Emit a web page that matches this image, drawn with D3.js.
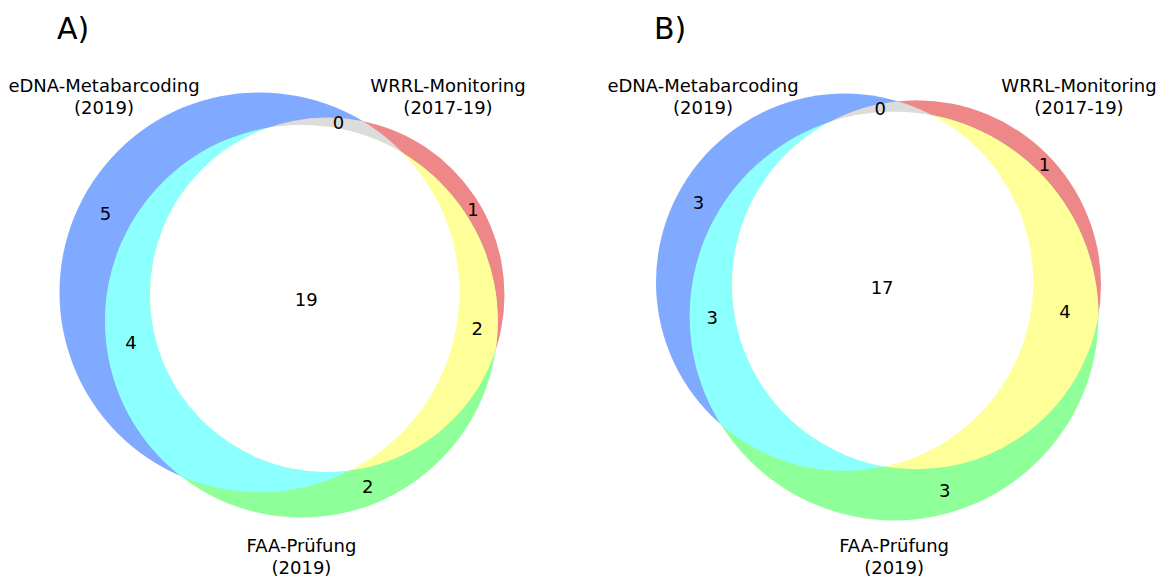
<!DOCTYPE html>
<html>
<head>
<meta charset="utf-8">
<script src="https://cdn.jsdelivr.net/npm/d3@7"></script>
<style>
  body { margin: 0; background: #ffffff; }
  svg text { font-family: "DejaVu Sans", Verdana, sans-serif; fill: #000000; }
</style>
</head>
<body>
<svg id="chart" width="1165" height="579"></svg>
<script>
// ---- data ----
const setNames = ["eDNA-Metabarcoding", "WRRL-Monitoring", "FAA-Prüfung"];
const setPeriods = ["(2019)", "(2017-19)", "(2019)"];
const panelTitles = ["A)", "B)"];
// membership of each region in (eDNA, WRRL, FAA)
const regionKeys = ["100", "010", "001", "110", "101", "011", "111"];
const countsA = [5, 1, 2, 0, 4, 2, 19];
const countsB = [3, 1, 3, 0, 3, 4, 17];
const regionColors = ["#80aaff", "#ee8888", "#8eff99", "#dcdcdc", "#8cffff", "#ffff99", "#ffffff"];

// ---- panel layout ----
const panels = [
  { title: panelTitles[0], counts: countsA, cx: 282, cy: 305, titleX: 57, setLabelX: [104, 448] },
  { title: panelTitles[1], counts: countsB, cx: 878.5, cy: 307, titleX: 654, setLabelX: [703, 1079] }
];
const boxW = 445, boxH = 440;
const rotation = 2 * Math.PI / 180;

const svg = d3.select("#chart");
const defs = svg.append("defs");

// area of the lens shared by two circles
function lensArea(r1, r2, d) {
  if (d >= r1 + r2) return 0;
  if (d <= Math.abs(r1 - r2)) return Math.PI * Math.min(r1, r2) ** 2;
  const a1 = Math.acos((d * d + r1 * r1 - r2 * r2) / (2 * d * r1));
  const a2 = Math.acos((d * d + r2 * r2 - r1 * r1) / (2 * d * r2));
  const k = Math.sqrt((-d + r1 + r2) * (d + r1 - r2) * (d - r1 + r2) * (d + r1 + r2));
  return r1 * r1 * a1 + r2 * r2 * a2 - 0.5 * k;
}
// centre distance giving the requested overlap area
function solveDistance(r1, r2, overlap) {
  let lo = Math.abs(r1 - r2), hi = r1 + r2;
  for (let i = 0; i < 80; i++) {
    const mid = (lo + hi) / 2;
    if (lensArea(r1, r2, mid) > overlap) lo = mid; else hi = mid;
  }
  return (lo + hi) / 2;
}

function layout(counts) {
  const inSets = idx => d3.sum(regionKeys, (k, j) => idx.every(i => k[i] === "1") ? counts[j] : 0);
  const sizes = [0, 1, 2].map(i => inSets([i]));
  const radii = sizes.map(n => Math.sqrt(n / Math.PI));
  const dEW = solveDistance(radii[0], radii[1], inSets([0, 1]));
  const dEF = solveDistance(radii[0], radii[2], inSets([0, 2]));
  const dWF = solveDistance(radii[1], radii[2], inSets([1, 2]));
  const fx = (dEF * dEF - dWF * dWF + dEW * dEW) / (2 * dEW);
  const fy = Math.sqrt(Math.max(0, dEF * dEF - fx * fx));
  const raw = [[0, 0], [dEW, 0], [fx, fy]];
  const cos = Math.cos(rotation), sin = Math.sin(rotation);
  const centers = raw.map(([x, y]) => [x * cos - y * sin, x * sin + y * cos]);
  return centers.map((c, i) => ({ x: c[0], y: c[1], r: radii[i] }));
}

// label anchor: take the region's longest boundary arc, cast a ray from the
// arc's midpoint into the region and put the label halfway across it
function regionAnchor(C, key, skip) {
  const N = 3600;
  const member = (px, py, ignore) => [0, 1, 2].every(j =>
    j === ignore || ((Math.hypot(px - C[j].x, py - C[j].y) < C[j].r) === (key[j] === "1")));
  let best = null;
  C.forEach((c, i) => {
    const on = d3.range(N).map(a => {
      const t = a / N * 2 * Math.PI;
      return member(c.x + c.r * Math.cos(t), c.y + c.r * Math.sin(t), i);
    });
    const startIdx = on.indexOf(false);
    if (startIdx < 0) return;
    let run = 0;
    for (let s = 1; s <= N; s++) {
      const idx = (startIdx + s) % N;
      if (on[idx]) run++;
      if ((!on[idx] || s === N) && run > 0) {
        const endIdx = on[idx] ? idx : idx - 1;
        const len = run / N * 2 * Math.PI * c.r;
        if (!best || len > best.len) {
          const midA = (endIdx - (run - 1) / 2) / N * 2 * Math.PI;
          best = { len, i, midA };
        }
        run = 0;
      }
    }
  });
  if (!best) return null;
  const c = C[best.i];
  const sx = c.x + c.r * Math.cos(best.midA), sy = c.y + c.r * Math.sin(best.midA);
  const inward = key[best.i] === "1" ? -1 : 1;
  const ux = inward * Math.cos(best.midA), uy = inward * Math.sin(best.midA);
  let t = 0.5;
  while (t < 2000 && member(sx + ux * t, sy + uy * t, -1)) t += 0.25;
  return [sx + ux * t / 2, sy + uy * t / 2];
}

panels.forEach((panel, p) => {
  const circles = layout(panel.counts);
  const minX = d3.min(circles, c => c.x - c.r), maxX = d3.max(circles, c => c.x + c.r);
  const minY = d3.min(circles, c => c.y - c.r), maxY = d3.max(circles, c => c.y + c.r);
  const s = Math.min(boxW / (maxX - minX), boxH / (maxY - minY));
  const w = s * (maxX - minX), h = s * (maxY - minY);
  const x = d3.scaleLinear().domain([minX, maxX]).range([panel.cx - w / 2, panel.cx + w / 2]);
  const y = d3.scaleLinear().domain([minY, maxY]).range([panel.cy - h / 2, panel.cy + h / 2]);
  const C = circles.map(c => ({ x: x(c.x), y: y(c.y), r: c.r * s }));

  const g = svg.append("g");

  C.forEach((c, i) => {
    defs.append("clipPath").attr("id", `clip-${p}-${i}`)
      .append("circle").attr("cx", c.x).attr("cy", c.y).attr("r", c.r);
  });
  const colorOf = key => regionColors[regionKeys.indexOf(key)];

  // single sets, then pairwise overlaps, then the triple overlap on top
  C.forEach((c, i) => {
    const key = [0, 1, 2].map(k => k === i ? "1" : "0").join("");
    g.append("circle").attr("cx", c.x).attr("cy", c.y).attr("r", c.r).attr("fill", colorOf(key));
  });
  [[0, 1], [0, 2], [1, 2]].forEach(([i, j]) => {
    const key = [0, 1, 2].map(k => (k === i || k === j) ? "1" : "0").join("");
    g.append("g").attr("clip-path", `url(#clip-${p}-${i})`)
      .append("circle").attr("cx", C[j].x).attr("cy", C[j].y).attr("r", C[j].r).attr("fill", colorOf(key));
  });
  g.append("g").attr("clip-path", `url(#clip-${p}-0)`)
    .append("g").attr("clip-path", `url(#clip-${p}-1)`)
    .append("circle").attr("cx", C[2].x).attr("cy", C[2].y).attr("r", C[2].r).attr("fill", colorOf("111"));

  // region counts
  regionKeys.forEach((key, ri) => {
    const a = regionAnchor(C, key);
    if (!a) return;
    g.append("text")
      .attr("x", a[0]).attr("y", a[1]).attr("dy", "0.36em")
      .attr("text-anchor", "middle").attr("font-size", 18)
      .text(panel.counts[ri]);
  });

  // set labels
  const labelPos = [
    { x: panel.setLabelX[0], y: 92 },
    { x: panel.setLabelX[1], y: 92 },
    { x: C[2].x, y: 552 }
  ];
  labelPos.forEach((lp, i) => {
    const t = g.append("text").attr("text-anchor", "middle").attr("font-size", 18)
      .attr("x", lp.x).attr("y", lp.y);
    t.append("tspan").attr("x", lp.x).text(setNames[i]);
    t.append("tspan").attr("x", lp.x).attr("dy", 21.5).text(setPeriods[i]);
  });

  // panel title
  g.append("text").attr("x", panel.titleX).attr("y", 38.5).attr("font-size", 30).text(panel.title);
});
</script>
</body>
</html>
